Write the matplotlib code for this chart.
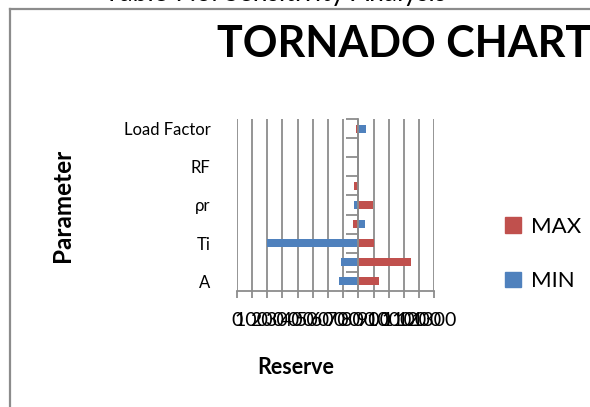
import matplotlib
matplotlib.use("Agg")
import matplotlib.pyplot as plt
import numpy as np
from matplotlib.lines import Line2D
from matplotlib.patches import Patch

# data
categories = ["A", "", "Ti", "", "\u03c1r", "", "RF", "", "Load Factor"]
base_value = 800  # the vertical axis crosses here, bars start from it
min_vals = [671, 685, 197, 843, 771, 800, 800, 800, 849]
max_vals = [938, 1147, 902, 763, 896, 773, 800, 800, 785]
x_ticks = list(range(0, 1301, 100))

RED = "#C0504D"
BLUE = "#4F81BD"
GRID = "#8c8c8c"
FONT = ["Lato", "DejaVu Sans"]

plt.rcParams["font.family"] = FONT

W, H = 590, 407
fig = plt.figure(figsize=(W / 100, H / 100), dpi=100)

def fx(px):
    return px / W

def fy(py):
    return 1 - py / H

ax = fig.add_axes([fx(236.7), fy(290.7), fx(434.3) - fx(236.7), fy(119.3) - fy(290.7)])

y = np.arange(len(categories))
ax.barh(y, np.array(max_vals) - base_value, left=base_value, height=0.4, color=RED, zorder=3)
ax.barh(y, np.array(min_vals) - base_value, left=base_value, height=0.4, color=BLUE, zorder=3)

ax.set_xlim(x_ticks[0], x_ticks[-1])
ax.set_ylim(-0.5, len(categories) - 0.5)

ax.set_xticks(x_ticks)
ax.set_xticklabels([str(v) for v in x_ticks])
ax.tick_params(axis="x", length=5, width=1.3, color=GRID, pad=10, labelsize=14)
ax.grid(axis="x", color=GRID, linewidth=1.3, zorder=0)
ax.set_axisbelow(True)

# category labels on the left (every other), ticks on the crossing axis
ax.set_yticks(y)
ax.set_yticklabels([c if i % 2 == 0 else "" for i, c in enumerate(categories)])
ax.set_yticks(np.arange(len(categories) + 1) - 0.5, minor=True)
ax.tick_params(axis="y", which="major", length=0, pad=19, labelsize=12)
ax.tick_params(axis="y", which="minor", left=False, right=True, direction="in",
               length=9, width=1.3, color=GRID)

ax.spines["top"].set_visible(False)
ax.spines["left"].set_visible(False)
ax.spines["right"].set_position(("data", base_value))
ax.spines["right"].set_color(GRID)
ax.spines["right"].set_linewidth(1.3)
ax.spines["right"].set_zorder(4)
ax.spines["bottom"].set_color(GRID)
ax.spines["bottom"].set_linewidth(1.3)

# axis titles
fig.text(fx(62), fy(205), "Parameter", rotation=90, ha="center", va="center",
         fontsize=17.5, fontweight="bold")
fig.text(fx(296), fy(367), "Reserve", ha="center", va="center",
         fontsize=15.5, fontweight="bold")

# chart title and the caption cut off above it
fig.text(fx(217), fy(44), "TORNADO CHART", ha="left", va="center",
         fontsize=31, fontweight="bold")
fig.text(fx(275), fy(1.5), "Table 7.6: Sensitivity Analysis", ha="center", va="baseline",
         fontsize=19)

# chart area border
fig.add_artist(Line2D([fx(10), fx(10)], [fy(9), 0], color="#8c8c8c", linewidth=1.6))
fig.add_artist(Line2D([fx(10), 1], [fy(9), fy(9)], color="#8c8c8c", linewidth=1.6))

handles = [Patch(color=RED, label="MAX"), Patch(color=BLUE, label="MIN")]
fig.legend(handles=handles, loc="center left", bbox_to_anchor=(fx(485), fy(254)),
           frameon=False, fontsize=16, handlelength=0.7, handleheight=0.7,
           handletextpad=0.45, labelspacing=1.55)

fig.savefig("out.png", dpi=100)
